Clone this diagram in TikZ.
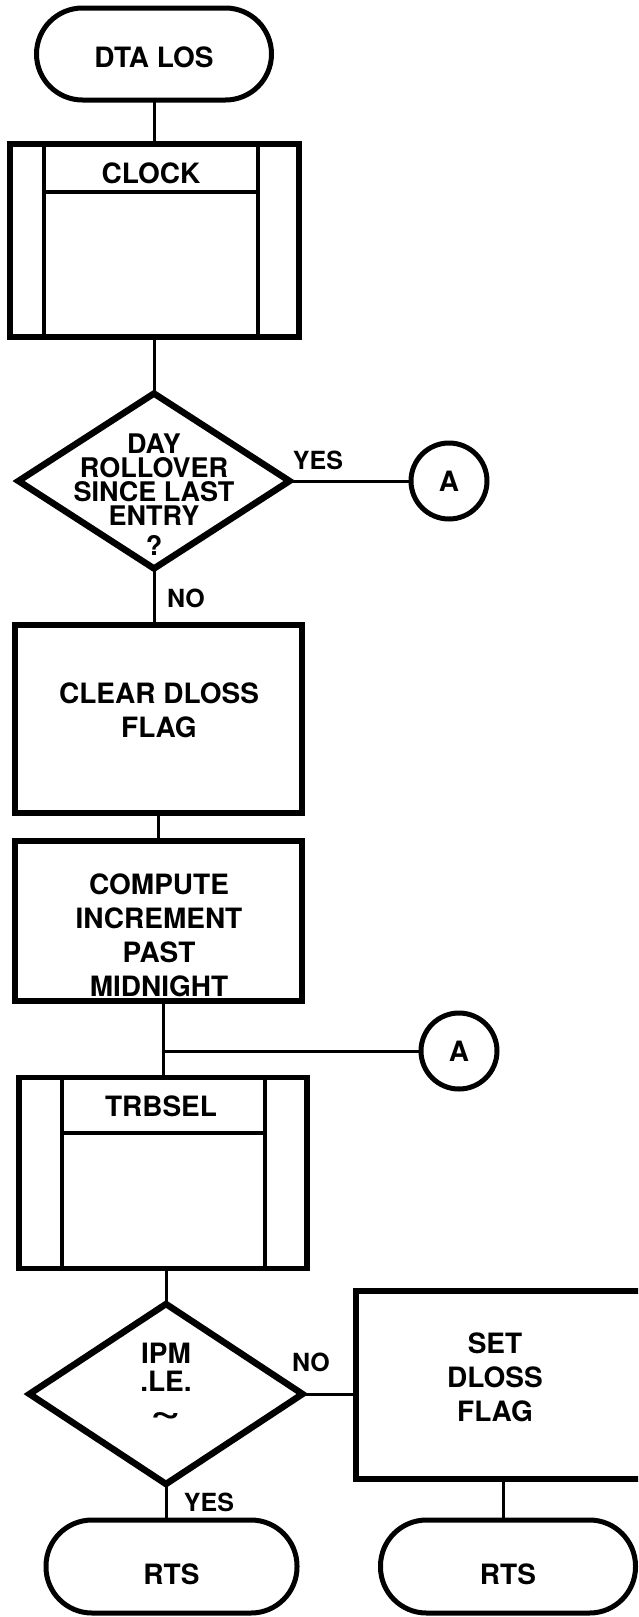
\documentclass[tikz,border=0pt]{standalone}
\usepackage{fontspec}
\setmainfont{TeX Gyre Heros}
\usetikzlibrary{shapes.geometric}
\begin{document}
\begin{tikzpicture}[x=1pt,y=-1pt,
  every node/.style={inner sep=0pt, outer sep=0pt},
  txt/.style={font=\bfseries\fontsize{28}{34}\selectfont, align=center},
  dtxt/.style={font=\bfseries\fontsize{27}{24}\selectfont, align=center},
  lbl/.style={font=\bfseries\fontsize{25}{28}\selectfont},
  term/.style={draw, line width=5pt, rounded corners=46pt, minimum height=92pt},
  box/.style={draw, line width=5.5pt},
  dec/.style={draw, diamond, line width=6.5pt},
  conn/.style={draw, circle, line width=5pt, minimum size=76pt},
  flow/.style={line width=3pt},
  inner/.style={line width=4.5pt}
]
\clip (0,0) rectangle (638,1617);
\fill[white] (0,0) rectangle (638,1617);

% start terminal
\node[term, minimum width=235pt] (start) at (154,54) {};
\node[txt] (startt) at (154,57) {DTA LOS};

% CLOCK predefined process
\node[box, minimum width=289pt, minimum height=193pt] (clock) at (154.5,240.5) {};
\coordinate (clkL) at (44,144);
\coordinate (clkR) at (258,144);
\draw[inner] (clkL) -- (clkL |- clock.south);
\draw[inner] (clkR) -- (clkR |- clock.south);
\coordinate (clkH) at (44,192);
\draw[inner] (clkH) -- (clkH -| clkR);
\node[txt] (clockt) at (151,173) {CLOCK};

% decision 1
\node[dec, minimum width=271pt, minimum height=175pt] (d1) at (154,481) {};
\node[dtxt] (d1t) at (154,495) {DAY\\ROLLOVER\\SINCE LAST\\ENTRY\\[6pt]?};
\node[conn] (a1) at (449,481) {};
\node[txt] (a1t) at (449,481) {A};
\node[lbl] (yes1) at (318,460) {YES};
\node[lbl] (no1) at (186,598) {NO};

% clear dloss flag
\node[box, minimum width=287pt, minimum height=188pt] (clear) at (158.5,719) {};
\node[txt] (cleart) at (159,710) {CLEAR DLOSS\\FLAG};

% compute
\node[box, minimum width=287pt, minimum height=160pt] (comp) at (158.5,921) {};
\node[txt] (compt) at (159,935) {COMPUTE\\INCREMENT\\PAST\\MIDNIGHT};

% connector A (second)
\node[conn] (a2) at (459,1051) {};
\node[txt] (a2t) at (459,1051) {A};
\coordinate (j2) at (163,1051);

% TRBSEL predefined process
\node[box, minimum width=288pt, minimum height=191pt] (trb) at (163,1173) {};
\coordinate (trbL) at (62,1077);
\coordinate (trbR) at (265,1077);
\draw[inner] (trbL) -- (trbL |- trb.south);
\draw[inner] (trbR) -- (trbR |- trb.south);
\coordinate (trbH) at (62,1133);
\draw[inner] (trbH) -- (trbH -| trbR);
\node[txt] (trbt) at (161,1106) {TRBSEL};

% decision 2
\node[dec, minimum width=273pt, minimum height=180pt] (d2) at (166,1394) {};
\node[txt, font=\bfseries\fontsize{28}{28}\selectfont] (d2t) at (166,1367) {IPM\\.LE.};
\node (d2t3) at (166,1418) {\resizebox{31pt}{12pt}{\bfseries\textasciitilde}};
\node[lbl] (no2) at (311,1362) {NO};
\node[lbl] (yes2) at (209,1502) {YES};

% set dloss flag (runs off the right edge)
\node[box, minimum width=300pt, minimum height=188pt] (setb) at (506,1385) {};
\node[txt] (sett) at (495,1377) {SET\\DLOSS\\FLAG};

% RTS terminals
\node[term, minimum width=251pt, minimum height=93pt] (rts1) at (171.5,1566.5) {};
\node[txt] (rts1t) at (171.5,1574) {RTS};
\node[term, minimum width=255pt, minimum height=93pt] (rts2) at (508,1566.5) {};
\node[txt] (rts2t) at (508,1574) {RTS};

% connectors
\draw[flow] (start.south) -- (start.south |- clock.north);
\draw[flow] (d1.north |- clock.south) -- (d1.north);
\draw[flow] (d1.east) -- (a1.west);
\draw[flow] (d1.south) -- (d1.south |- clear.north);
\draw[flow] (clear.south) -- (clear.south |- comp.north);
\draw[flow] (comp.south -| j2) -- (j2 |- trb.north);
\draw[flow] (j2) -- (a2.west);
\draw[flow] (d2.north |- trb.south) -- (d2.north);
\draw[flow] (d2.east) -- (d2.east -| setb.west);
\draw[flow] (d2.south) -- (d2.south |- rts1.north);
\coordinate (sb) at (503,1479);
\draw[flow] (sb) -- (sb |- rts2.north);
\end{tikzpicture}
\end{document}
